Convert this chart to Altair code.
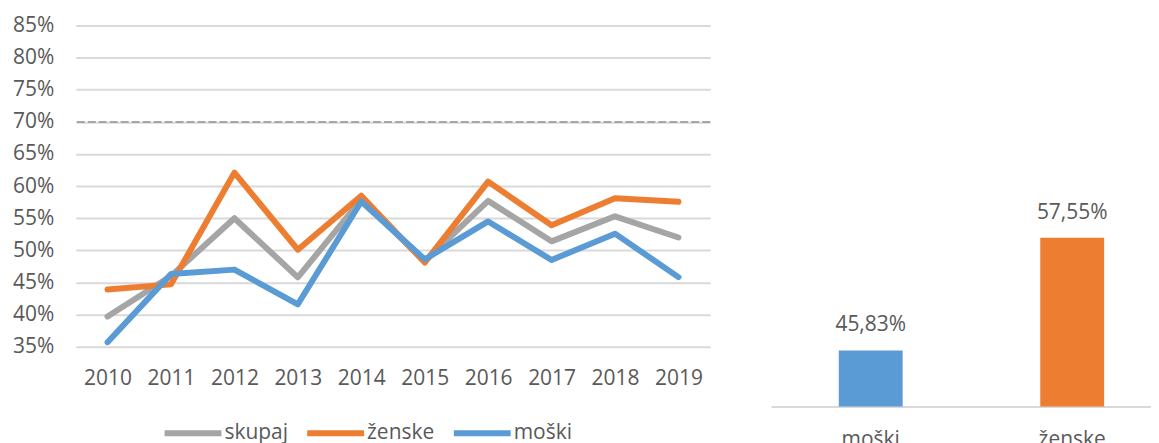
import altair as alt
import pandas as pd

# ---- data ----
years = [2010, 2011, 2012, 2013, 2014, 2015, 2016, 2017, 2018, 2019]
skupaj = [39.7, 46.0, 55.0, 45.8, 57.9, 48.3, 57.7, 51.4, 55.3, 52.0]
zenske = [43.9, 44.7, 62.1, 50.1, 58.5, 48.1, 60.7, 53.9, 58.1, 57.55]
moski = [35.7, 46.3, 47.0, 41.6, 57.6, 48.6, 54.5, 48.5, 52.6, 45.83]
series_names = ["skupaj", "ženske", "moški"]
series_colors = ["#a5a5a5", "#ed7d31", "#5b9bd5"]
y_ticks = [35, 40, 45, 50, 55, 60, 65, 70, 75, 80, 85]
target = [70]

bar_cats = ["moški", "ženske"]
bar_vals = [45.83, 57.55]
bar_colors = ["#5b9bd5", "#ed7d31"]
bar_base = 40

# ---- tables ----
rows = []
for name, vals in zip(series_names, [skupaj, zenske, moski]):
    for yr, v in zip(years, vals):
        rows.append({"leto": str(yr), "serija": name, "vrednost": v})
df = pd.DataFrame(rows)
target_df = pd.DataFrame({"cilj": target})
bar_df = pd.DataFrame({
    "kat": bar_cats,
    "vrednost": bar_vals,
    "oznaka": [f"{v:.2f}".replace(".", ",") + "%" for v in bar_vals],
})

FONT = "Open Sans"
TXT = "#595959"
GRID = "#d9d9d9"
FS = 21

y_scale = alt.Scale(domain=[35, 85], nice=False, zero=False)
y_axis = alt.Axis(values=y_ticks, title=None,
                  labelExpr="datum.value + '%'",
                  labelOverlap=False,
                  grid=True, gridColor=GRID, gridWidth=2,
                  ticks=False, domain=False, labelPadding=22,
                  labelFontSize=FS, labelColor=TXT, labelFont=FONT)

x_enc = alt.X(
    "leto:N",
    sort=[str(y) for y in years],
    scale=alt.Scale(padding=0.5),
    axis=alt.Axis(title=None, labelAngle=0, ticks=False, domain=False,
                  labelFontSize=FS, labelColor=TXT, labelFont=FONT,
                  labelPadding=21, grid=False),
)

lines = alt.Chart(df).mark_line(
    strokeWidth=6, strokeCap="round", strokeJoin="round"
).encode(
    x=x_enc,
    y=alt.Y("vrednost:Q", scale=y_scale, axis=y_axis),
    color=alt.Color(
        "serija:N",
        sort=series_names,
        scale=alt.Scale(domain=series_names, range=series_colors),
        legend=alt.Legend(
            title=None, orient="none", legendX=86, legendY=377,
            direction="horizontal", symbolType="stroke",
            symbolSize=3249, symbolStrokeWidth=6,
            labelFontSize=FS, labelColor=TXT, labelFont=FONT,
            columnPadding=7, labelOffset=0,
        ),
    ),
)

rule = alt.Chart(target_df).mark_rule(
    color="#a6a6a6", strokeWidth=2, strokeDash=[8, 3]
).encode(y=alt.Y("cilj:Q", scale=y_scale, axis=y_axis))

left = alt.layer(rule, lines).properties(width=636, height=322)

base = alt.Chart(bar_df).encode(
    x=alt.X("kat:N", sort=bar_cats,
            scale=alt.Scale(paddingInner=0.683, paddingOuter=0.3366),
            axis=alt.Axis(title=None, labelAngle=0, ticks=False, domain=True,
                          domainColor=GRID, domainWidth=2,
                          labelFontSize=FS, labelColor=TXT, labelFont=FONT,
                          labelPadding=22, grid=False)),
)
bar_y = alt.Scale(domain=[40, 79.6], nice=False, zero=False)
bars = base.mark_bar().encode(
    y=alt.Y("vrednost:Q", scale=bar_y, axis=None),
    y2=alt.datum(bar_base),
    color=alt.Color("kat:N", scale=alt.Scale(domain=bar_cats, range=bar_colors),
                    legend=None),
)
labels = base.mark_text(dy=-19, baseline="alphabetic", fontSize=FS,
                        font=FONT, color=TXT).encode(
    y=alt.Y("vrednost:Q", scale=bar_y, axis=None),
    text="oznaka:N",
)
right = alt.layer(bars, labels).properties(width=402, height=382)

chart = alt.hconcat(left, right, spacing=60).resolve_scale(
    color="independent"
).configure_view(stroke=None).properties(
    padding={"left": 4, "top": 6, "right": -21, "bottom": 0}
)

chart.save("out.html", embed_options={"renderer": "svg", "actions": False})
